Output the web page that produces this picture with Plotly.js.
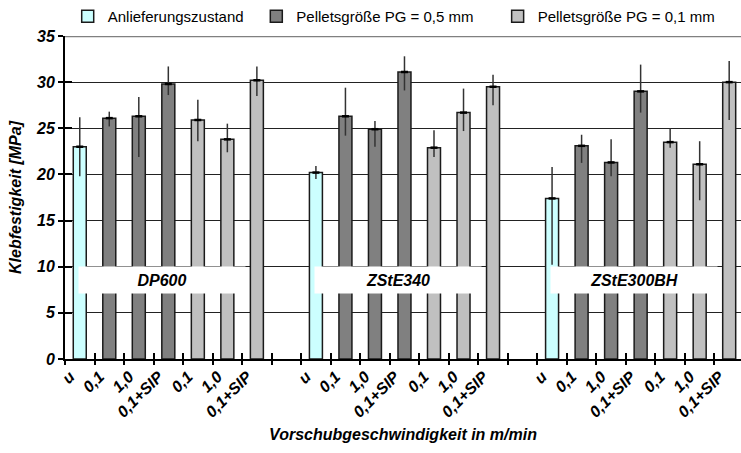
<!DOCTYPE html>
<html>
<head>
<meta charset="utf-8">
<script src="https://cdn.plot.ly/plotly-3.0.1.min.js"></script>
<style>html,body{margin:0;padding:0;overflow:hidden;background:#fff}#chart{width:741px;height:453px}</style>
</head>
<body>
<div id="chart"></div>
<script>
// ---- data ----
var groups = ["DP600", "ZStE340", "ZStE300BH"];
var tickLabels = ["u", "0,1", "1,0", "0,1+SIP", "0,1", "1,0", "0,1+SIP"];
var seriesNames = ["Anlieferungszustand", "Pelletsgröße PG = 0,5 mm", "Pelletsgröße PG = 0,1 mm"];

// Anlieferungszustand (one bar per group)
var asReceived      = [23.0, 20.2, 17.4];
var asReceivedPlus  = [3.2, 0.7, 3.4];
var asReceivedMinus = [3.2, 0.7, 7.2];

// PG = 0,5 mm : 0,1 / 1,0 / 0,1+SIP per group
var pg05      = [26.1, 26.3, 29.8,  26.3, 24.9, 31.1,  23.1, 21.3, 29.0];
var pg05Plus  = [0.7, 2.1, 1.9,     3.1, 0.9, 1.7,     1.2, 2.5, 2.9];
var pg05Minus = [0.9, 4.4, 1.2,     2.1, 1.9, 2.0,     1.85, 1.5, 2.3];

// PG = 0,1 mm : 0,1 / 1,0 / 0,1+SIP per group
var pg01      = [25.9, 23.8, 30.2,  22.9, 26.7, 29.5,  23.5, 21.1, 30.0];
var pg01Plus  = [2.2, 1.7, 1.5,     1.9, 2.6, 1.3,     1.5, 2.5, 2.3];
var pg01Minus = [2.3, 1.4, 1.7,     1.0, 2.0, 2.0,     0.6, 3.9, 4.1];

// ---- positions (category index: 7 bars + 1 empty slot per group) ----
var slots = tickLabels.length + 1;
var xU = [], x05 = [], x01 = [];
for (var g = 0; g < groups.length; g++) {
  xU.push(g * slots);
  for (var k = 0; k < 3; k++) { x05.push(g * slots + 1 + k); x01.push(g * slots + 4 + k); }
}
var nCat = groups.length * slots - 1;
var centers = [], texts = [], bounds = [];
for (var i = 0; i < nCat; i++) {
  var s = i % slots;
  centers.push(i - 0.33);
  texts.push(s < tickLabels.length ? tickLabels[s] : "");
}
for (var b = 0; b <= nCat; b++) bounds.push(b - 0.5);

var FONT = "Arial, 'Liberation Sans', sans-serif";
var BI = {family: FONT, size: 16, color: "#000", weight: "bold", style: "italic"};
var barLine = {color: "#1a1a1a", width: 1.5};
var BW = 0.44;
function err(p, m) { return {type: "data", symmetric: false, array: p, arrayminus: m, color: "#333", thickness: 1.5, width: 0}; }

var traces = [
  {type: "bar", name: seriesNames[0], x: xU, y: asReceived, width: BW, legend: "legend",
   marker: {color: "#CCFFFF", line: barLine}, error_y: err(asReceivedPlus, asReceivedMinus)},
  {type: "bar", name: seriesNames[1], x: x05, y: pg05, width: BW, legend: "legend2",
   marker: {color: "#808080", line: barLine}, error_y: err(pg05Plus, pg05Minus)},
  {type: "bar", name: seriesNames[2], x: x01, y: pg01, width: BW, legend: "legend3",
   marker: {color: "#C0C0C0", line: barLine}, error_y: err(pg01Plus, pg01Minus)},
  {type: "scatter", mode: "markers", x: xU.concat(x05, x01), y: asReceived.concat(pg05, pg01),
   marker: {symbol: "line-ew", size: 5, line: {color: "#000", width: 2.5}}, showlegend: false, hoverinfo: "skip"},
  {type: "scatter", x: [], y: [], xaxis: "x2", yaxis: "y2", showlegend: false},
  {type: "scatter", x: [], y: [], xaxis: "x3", yaxis: "y", showlegend: false}
];

var XR = [-0.5, 22.4], YR = [0, 35];
var annotations = groups.map(function (name, gi) {
  return {x: gi * slots + 2.78, y: 8.6, xref: "x", yref: "y", text: name, showarrow: false,
          width: 166, height: 26, bgcolor: "#fff", borderpad: 0, font: BI};
});

var legBase = {orientation: "h", yanchor: "middle", y: 1.062, xanchor: "left",
               font: {family: FONT, size: 15, color: "#000"}, bgcolor: "rgba(0,0,0,0)", borderwidth: 0};
var layout = {
  width: 741, height: 453,
  margin: {l: 65, r: 0, t: 35, b: 94},
  paper_bgcolor: "#fff", plot_bgcolor: "#fff",
  barmode: "overlay",
  showlegend: true,
  legend: Object.assign({}, legBase, {x: 0.004}),
  legend2: Object.assign({}, legBase, {x: 0.283}),
  legend3: Object.assign({}, legBase, {x: 0.640}),
  xaxis: {range: XR, tickmode: "array", tickvals: centers, ticktext: texts, tickangle: -45,
          ticks: "", showgrid: false, zeroline: false, showline: true, linecolor: "#000", linewidth: 2,
          tickfont: BI, automargin: false,
          title: {text: "Vorschubgeschwindigkeit in m/min", font: {family: FONT, size: 16, color: "#000", weight: "bold", style: "italic"}, standoff: 9}},
  xaxis2: {range: XR, overlaying: "x", anchor: "y2", side: "bottom", tickmode: "array", tickvals: bounds,
           ticks: "outside", ticklen: 5, tickwidth: 2, tickcolor: "#000", showticklabels: false,
           showgrid: false, zeroline: false, showline: false},
  xaxis3: {range: XR, overlaying: "x", anchor: "y", side: "bottom", tickmode: "array", tickvals: bounds,
           ticks: "inside", ticklen: 6, tickwidth: 2, tickcolor: "#000", showticklabels: false,
           showgrid: false, zeroline: false, showline: false},
  yaxis: {range: YR, dtick: 5, tick0: 0, ticks: "outside", ticklen: 5, tickwidth: 2, tickcolor: "#000",
          showgrid: true, gridcolor: "#222", gridwidth: 1, zeroline: false,
          showline: true, linecolor: "#000", linewidth: 2, tickfont: BI, automargin: false,
          title: {text: "Klebfestigkeit [MPa]", font: {family: FONT, size: 16, color: "#000", weight: "bold", style: "italic"}, standoff: 10}},
  yaxis2: {range: YR, dtick: 5, tick0: 0, overlaying: "y", anchor: "x2", side: "left", ticks: "inside", ticklen: 7,
           tickwidth: 2, tickcolor: "#000", showticklabels: false, showgrid: false, zeroline: false, showline: false},
  shapes: [{type: "line", xref: "paper", yref: "y", x0: 0, x1: 1, y0: 35, y1: 35, line: {color: "#808080", width: 2.5}}],
  annotations: annotations
};

Plotly.newPlot("chart", traces, layout, {displayModeBar: false, staticPlot: true});
</script>
</body>
</html>
